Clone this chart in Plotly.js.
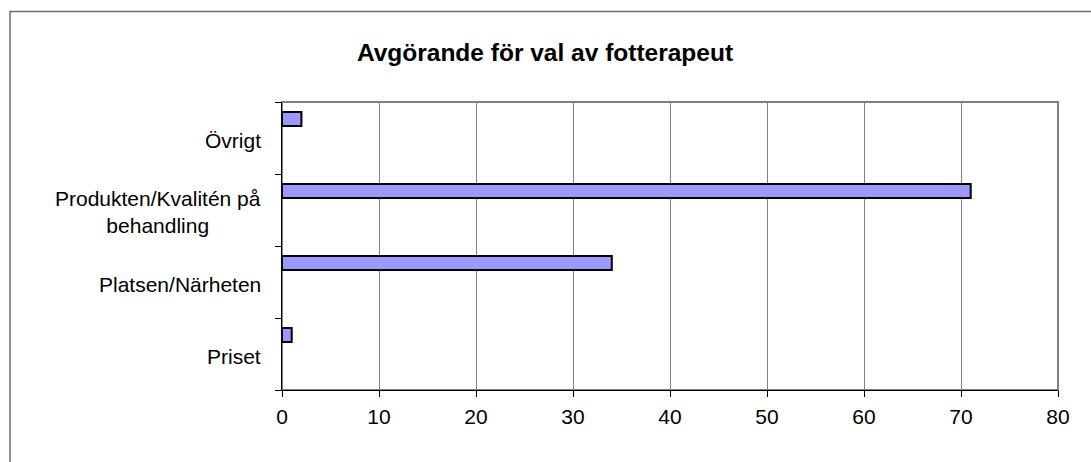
<!DOCTYPE html>
<html>
<head>
<meta charset="utf-8">
<script src="https://cdn.plot.ly/plotly-3.0.1.min.js"></script>
<style>html,body{margin:0;padding:0;background:#fff;}#chart{width:1091px;height:462px;}</style>
</head>
<body>
<div id="chart"></div>
<script>
// Data (bottom to top, as drawn)
var categories = ["Priset", "Platsen/Närheten", "Produkten/Kvalitén på behandling", "Övrigt"];
var categoryLabels = ["Priset", "Platsen/Närheten", "Produkten/Kvalitén på<br>behandling", "Övrigt"];
var values = [1, 34, 71, 2];
var xTicks = [0, 10, 20, 30, 40, 50, 60, 70, 80];
var chartTitle = "Avgörande för val av fotterapeut";

var font = "Liberation Sans, Arial, sans-serif";

var trace = {
  type: "bar",
  orientation: "h",
  y: categories,
  x: values,
  width: 0.194,
  offset: 0.167,
  marker: {color: "#9999FF", line: {color: "#000000", width: 2}},
  hoverinfo: "x+y"
};

var annotations = categories.map(function (c, i) {
  return {
    xref: "paper", yref: "y",
    x: -0.0245, y: c,
    xanchor: "right", yanchor: "middle",
    yshift: -2,
    align: "center",
    text: categoryLabels[i],
    showarrow: false,
    font: {family: font, size: 21, color: "#000"}
  };
});

var layout = {
  width: 1091, height: 462,
  margin: {l: 282, r: 33, t: 102, b: 72, pad: 0},
  paper_bgcolor: "#ffffff",
  plot_bgcolor: "#ffffff",
  showlegend: false,
  title: {
    text: "<b>" + chartTitle + "</b>",
    x: 545 / 1091, xref: "container", xanchor: "center",
    y: 1 - 52 / 462, yref: "container", yanchor: "middle",
    font: {family: font, size: 24.5, color: "#000"}
  },
  xaxis: {
    range: [0, 80],
    tickvals: xTicks,
    ticktext: xTicks.map(String),
    ticks: "outside", ticklen: 6, tickwidth: 1, tickcolor: "#000",
    ticklabelstandoff: 2,
    showline: true, linecolor: "#000", linewidth: 1,
    showgrid: true, gridcolor: "#808080", gridwidth: 1,
    zeroline: false,
    tickfont: {family: font, size: 21, color: "#000"},
    fixedrange: true
  },
  yaxis: {
    type: "category",
    categoryorder: "array", categoryarray: categories,
    range: [-0.5, 3.5],
    ticks: "outside", tickson: "boundaries", ticklen: 6, tickwidth: 1, tickcolor: "#000",
    showticklabels: false,
    showline: true, linecolor: "#000", linewidth: 1,
    showgrid: false, zeroline: false,
    fixedrange: true
  },
  shapes: [
    {type: "rect", xref: "paper", yref: "paper", x0: 0, x1: 1, y0: 0, y1: 1,
     line: {color: "#808080", width: 2}, layer: "below"},
    {type: "rect", xref: "paper", yref: "paper",
     x0: (10 - 282) / 776, x1: 1.2, y0: -0.5, y1: (390 - 11.5) / 288,
     line: {color: "#6e6e6e", width: 1.5}, layer: "below"}
  ],
  annotations: annotations,
  bargap: 0
};

Plotly.newPlot("chart", [trace], layout, {displayModeBar: false, staticPlot: true});
</script>
</body>
</html>
